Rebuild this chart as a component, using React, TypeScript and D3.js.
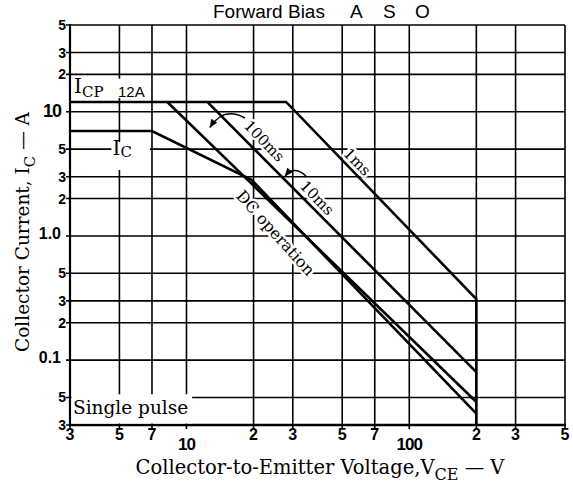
import React from 'react';
import * as d3 from 'd3';

// ---- data ----
const xTickValues = [3, 5, 7, 10, 20, 30, 50, 70, 100, 200, 300, 500];
const xTickLabels = ['3', '5', '7', '10', '2', '3', '5', '7', '100', '2', '3', '5'];
const yTickValues = [50, 30, 20, 10, 5, 3, 2, 1, 0.5, 0.3, 0.2, 0.1, 0.05, 0.03];
const yTickLabels = ['5', '3', '2', '10', '5', '3', '2', '1.0', '5', '3', '2', '0.1', '5', '3'];

// I_CP (12 A) plateau continuing into the 1 ms pulse limit
const pulse1msV = [3, 28, 200, 200];
const pulse1msI = [12, 12, 0.31, 0.03];
const pulse10msV = [12.4, 200];
const pulse10msI = [12, 0.08];
const pulse100msV = [8.2, 200];
const pulse100msI = [12, 0.046];
// I_C (7 A) plateau continuing into DC operation
const dcV = [3, 7, 19.5, 200];
const dcI = [7, 7, 2.85, 0.037];

const SANS = "'Liberation Sans', Arial, sans-serif";
const SERIF = "'DejaVu Serif', serif";

export default function App() {
  const W = 573, H = 496;
  const L = 70, R = 565, T = 25, B = 425;
  const x = d3.scaleLog().domain([3, 500]).range([L, R]);
  const y = d3.scaleLog().domain([0.03, 50]).range([B, T]);
  const line = d3.line<[number, number]>().x(d => x(d[0])).y(d => y(d[1]));
  const zip = (a: number[], b: number[]) => a.map((v, i) => [v, b[i]] as [number, number]);
  const series = [
    zip(pulse1msV, pulse1msI),
    zip(pulse10msV, pulse10msI),
    zip(pulse100msV, pulse100msI),
    zip(dcV, dcI),
  ];
  const decade = (s: string) => s === '10' || s === '100' || s === '1.0' || s === '0.1';

  const rotLabel = (text: string, V: number, I: number, ang: number, size: number) => (
    <text
      x={x(V)} y={y(I)} transform={`rotate(${ang},${x(V)},${y(I)})`}
      textAnchor="middle" dominantBaseline="central"
      fontFamily={SERIF} fontSize={size} fill="#000"
      stroke="#fff" strokeWidth={5} paintOrder="stroke" strokeLinejoin="round"
    >{text}</text>
  );
  const arrow = (p0: number[], c: number[], p1: number[]) => (
    <path
      d={`M${x(p0[0])},${y(p0[1])} Q${x(c[0])},${y(c[1])} ${x(p1[0])},${y(p1[1])}`}
      fill="none" stroke="#000" strokeWidth={1.6} markerEnd="url(#ah)"
    />
  );

  return (
    <svg width={W} height={H} style={{ position: 'absolute', left: 0, top: 0, background: '#fff' }}>
      <defs>
        <marker id="ah" viewBox="0 0 10 8" refX={9} refY={4} markerWidth={9} markerHeight={7}
          markerUnits="userSpaceOnUse" orient="auto">
          <path d="M0,0 L10,4 L0,8 z" fill="#000" />
        </marker>
      </defs>
      <rect x={0} y={0} width={W} height={H} fill="#fff" />

      {/* title */}
      <text y={18} fontFamily={SANS} fontSize={19} fill="#000">
        <tspan x={213}>Forward Bias</tspan>
        <tspan x={350}>A</tspan>
        <tspan x={383}>S</tspan>
        <tspan x={415}>O</tspan>
      </text>

      {/* grid */}
      {yTickValues.map((v, i) => (
        <line key={'gy' + i} x1={L - 4} x2={R} y1={y(v)} y2={y(v)} stroke="#000" strokeWidth={1.6} />
      ))}
      {xTickValues.map((v, i) => (
        <line key={'gx' + i} x1={x(v)} x2={x(v)} y1={T} y2={B + 4} stroke="#000" strokeWidth={1.6} />
      ))}
      <line x1={L} x2={L} y1={T - 1} y2={B + 1} stroke="#000" strokeWidth={2.2} />
      <line x1={L - 1} x2={R + 1} y1={B} y2={B} stroke="#000" strokeWidth={2.5} />

      {/* label backgrounds breaking the grid */}
      <rect x={x(3) + 1.5} y={y(0.053)} width={x(10.6) - x(3) - 1.5} height={y(0.03) - y(0.053) - 1.5} fill="#fff" />
      <rect x={x(3) + 1.5} y={y(18.5)} width={x(6.9) - x(3) - 1.5} height={y(12.9) - y(18.5)} fill="#fff" />
      <rect x={x(4.6)} y={y(5.7)} width={x(6.85) - x(4.6)} height={y(3.4) - y(5.7)} fill="#fff" />

      {/* in-plot labels */}
      <text x={x(3) + 4} y={y(12) - 9} fontFamily={SERIF} fontSize={20} fill="#000">
        I<tspan fontSize={15} dy={4}>CP</tspan>
      </text>
      <text x={118} y={y(12) - 5} fontFamily={SANS} fontSize={15} fill="#000">12A</text>
      <text x={x(4.8) - 3} y={y(7) + 24} fontFamily={SERIF} fontSize={20} fill="#000">
        I<tspan fontSize={15} dy={2}>C</tspan>
      </text>
      <text x={x(3) + 3} y={y(0.03) - 11} fontFamily={SERIF} fontSize={18.5} fill="#000">Single pulse</text>

      {rotLabel('100ms', 22.3, 5.8, 46, 15)}
      {rotLabel('10ms', 38.5, 2.02, 46, 15)}
      {rotLabel('1ms', 58.3, 3.94, 46, 15)}
      {rotLabel('DC operation', 25.1, 1.056, 48, 16)}

      {arrow([18.3, 8.9], [14.7, 11.1], [12.75, 7.5])}
      {arrow([34.4, 3.04], [30.4, 3.73], [27.7, 3.04])}

      {/* SOA curves */}
      {series.map((s, i) => (
        <path key={'s' + i} d={line(s) || ''} fill="none" stroke="#000" strokeWidth={2.6} strokeLinejoin="miter" />
      ))}

      {/* y tick labels */}
      {yTickValues.map((v, i) => {
        const lab = yTickLabels[i];
        const dec = decade(lab);
        return (
          <text key={'yl' + i} x={dec ? 61 : 66} y={y(v) + (lab === '10' ? 5 : dec ? 3 : 5)}
            textAnchor="end" fontFamily={SANS} fontWeight="bold"
            fontSize={lab === '10' ? 18 : dec ? 16 : 14} letterSpacing={lab === '10' ? -1 : 0} fill="#000">{lab}</text>
        );
      })}
      {/* x tick labels */}
      {xTickValues.map((v, i) => {
        const lab = xTickLabels[i];
        const dec = decade(lab);
        return (
          <text key={'xl' + i} x={x(v)} y={dec ? 450 : 440} textAnchor="middle"
            fontFamily={SANS} fontWeight="bold" fontSize={dec ? 17 : 16}
            letterSpacing={dec ? -1 : 0} fill="#000">{lab}</text>
        );
      })}

      {/* axis titles */}
      <text x={320} y={474} textAnchor="middle" fontFamily={SERIF} fontSize={19.5} fill="#000">
        Collector-to-Emitter Voltage,V<tspan fontSize={16} dy={6}>CE</tspan><tspan dy={-6}> — V</tspan>
      </text>
      <text transform="translate(29,232) rotate(-90)" textAnchor="middle" fontFamily={SERIF} fontSize={18.5} fill="#000">
        Collector Current, I<tspan fontSize={15} dy={6}>C</tspan><tspan dy={-6}> — A</tspan>
      </text>
    </svg>
  );
}
